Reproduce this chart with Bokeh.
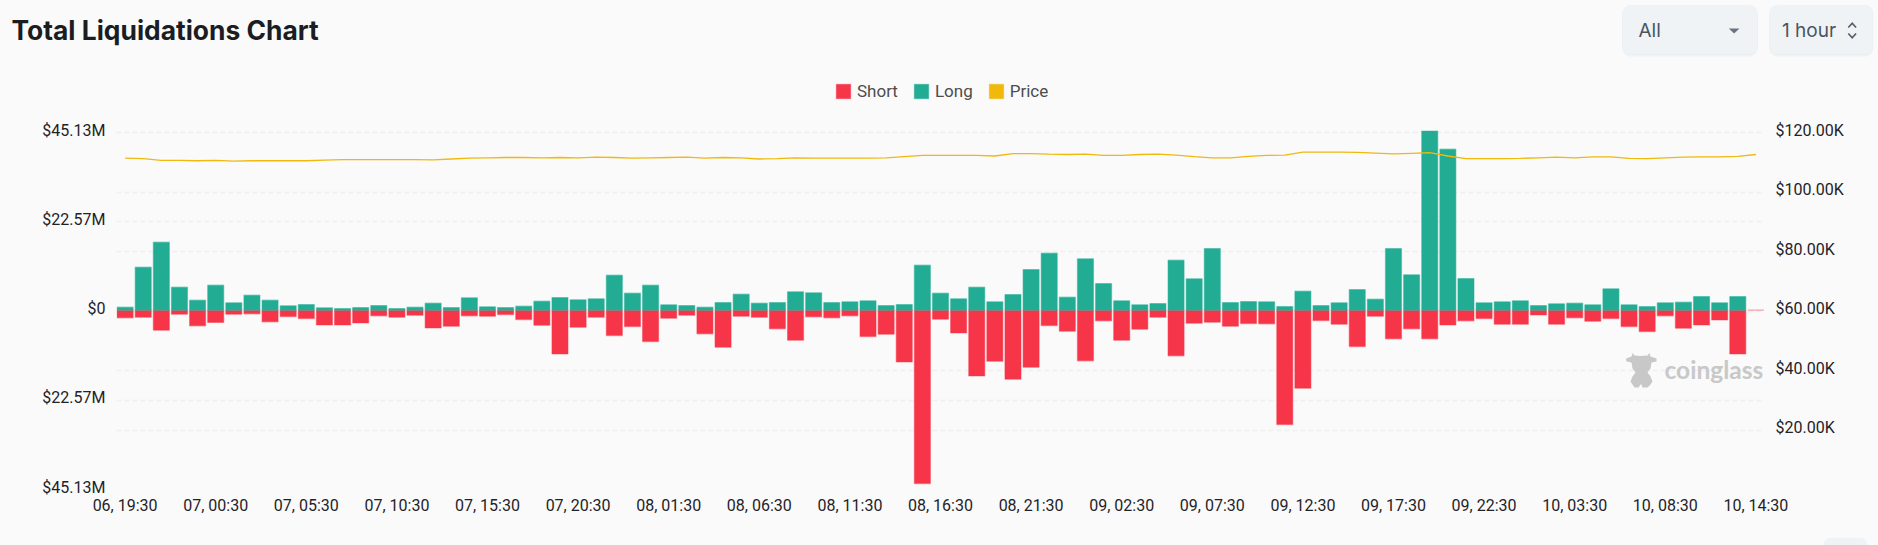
from bokeh.embed import file_html
from bokeh.resources import INLINE
from bokeh.layouts import column
from bokeh.plotting import figure
from bokeh.models import (Range1d, LinearAxis, FixedTicker, Grid, Legend, LegendItem, Label,
                          BoxAnnotation, PolyAnnotation, ColumnDataSource)

long_m = [0.76,10.93,17.28,5.84,2.54,6.35,1.86,3.81,2.54,1.10,1.44,0.59,0.42,0.68,1.19,0.42,0.76,1.78,0.68,
          3.13,0.85,0.68,1.02,2.29,3.22,2.63,2.88,8.89,4.32,6.35,1.36,1.19,0.76,1.95,4.07,1.78,1.95,
          4.66,4.40,1.95,2.12,2.37,1.19,1.44,11.43,4.32,2.88,5.84,2.12,3.98,10.33,14.48,3.30,13.04,6.78,
          2.37,1.36,1.69,12.71,7.96,15.67,1.95,2.20,2.12,0.93,4.83,1.19,1.86,5.25,2.80,15.67,8.98,45.5,40.9,
          8.05,1.86,2.12,2.37,1.19,1.61,1.78,1.36,5.42,1.36,0.93,1.86,2.03,3.47,1.86,3.47,float("nan")]
short_m = [1.95,1.78,5.08,1.02,3.98,3.13,1.02,0.93,2.96,1.61,2.12,3.73,3.73,3.22,1.44,1.78,1.27,4.49,4.07,
           1.44,1.52,1.10,2.37,3.81,11.10,4.32,1.78,6.44,4.15,7.96,2.03,1.27,6.01,9.40,1.52,1.78,4.74,
           7.62,1.69,1.95,1.44,6.69,6.10,13.13,44.04,2.29,5.76,16.69,12.96,17.53,14.48,3.90,5.34,12.87,2.71,
           7.62,4.83,1.78,11.60,3.30,3.05,4.07,3.39,3.47,29.05,19.82,2.63,3.56,9.23,1.52,7.28,4.74,7.28,3.73,
           2.71,2.12,3.56,3.56,1.19,3.56,1.95,2.80,2.12,4.15,5.42,1.44,4.57,3.73,2.46,11.10,0]
price_k = [111.4,111.2,110.6,110.6,110.5,110.6,110.4,110.5,110.5,110.5,110.5,110.7,110.9,110.9,110.9,110.9,110.9,110.8,111.1,
           111.4,111.5,111.6,111.6,111.5,111.6,111.5,111.7,111.6,111.4,111.5,111.6,111.7,111.4,111.6,111.5,111.1,111.2,
           111.5,111.4,111.4,111.4,111.4,111.5,111.9,112.3,112.3,112.3,112.3,112.1,112.9,112.9,112.7,112.6,112.7,112.3,
           112.3,112.6,112.7,112.4,111.9,111.5,111.5,112.0,112.3,112.4,113.4,113.4,113.4,113.3,113.1,112.8,113.0,113.2,112.1,
           111.2,111.2,111.2,111.3,111.5,111.7,111.5,111.8,111.8,111.3,111.2,111.5,111.7,111.8,111.8,112.0,112.6]
x_tick_positions = [0,5,10,15,20,25,30,35,40,45,50,55,60,65,70,75,80,85,90]
x_tick_labels = ["06, 19:30","07, 00:30","07, 05:30","07, 10:30","07, 15:30","07, 20:30","08, 01:30","08, 06:30",
                 "08, 11:30","08, 16:30","08, 21:30","09, 02:30","09, 07:30","09, 12:30","09, 17:30","09, 22:30",
                 "10, 03:30","10, 08:30","10, 14:30"]
left_ticks = [45.13,22.57,0,-22.57,-45.13]
left_labels = ["$45.13M","$22.57M","$0","$22.57M","$45.13M"]
right_ticks = [20,40,60,80,100,120]
right_labels = ["$20.00K","$40.00K","$60.00K","$80.00K","$100.00K","$120.00K"]

RED, GREEN, YELLOW = "#f63549", "#22ac94", "#f0b90b"
BG = "#fafafa"
W = 1878
HEAD, MAIN, FOOT = 110, 425, 10
# the frame runs 12px above the top grid line, so the top axis texts can sit above their line
FL, FR, FT, FB = 116, 1764, 120, 489   # frame edges in page pixels

# ---- main chart
p = figure(width=W, height=MAIN, output_backend="svg", toolbar_location=None,
           x_range=Range1d(-0.475, 90.475), y_range=Range1d(-45.54, 48.18),
           x_axis_location="below", y_axis_location=None,
           min_border_left=FL, min_border_right=W-FR, min_border_top=FT-HEAD, min_border_bottom=HEAD+MAIN-FB,
           background_fill_color=BG, border_fill_color=BG, outline_line_color=None)
p.frame_align = False
p.xgrid.visible = False
p.ygrid.visible = False

# the axis texts sit about 2.4px above their grid lines, hence the separate label ranges
p.extra_y_ranges = {"left": Range1d(-45.13, 48.164), "price": Range1d(0, 124.034),
                    "leftlab": Range1d(-45.73, 47.564), "pricelab": Range1d(-0.8, 123.234)}

GRID = dict(grid_line_color="#f0f0f0", grid_line_width=1.3, grid_line_dash=[5, 3])
for rng, tk in (("left", left_ticks), ("price", [0]+right_ticks)):
    p.add_layout(Grid(dimension=1, ticker=FixedTicker(ticks=tk), y_range_name=rng, **GRID))

AX = dict(axis_line_color=None, major_tick_line_color=None, minor_tick_line_color=None,
          major_tick_out=0, major_tick_in=0, minor_tick_out=0, minor_tick_in=0,
          major_label_text_font="Roboto", major_label_text_font_size="16px",
          major_label_text_color="#1f2328")
la = LinearAxis(y_range_name="leftlab", ticker=FixedTicker(ticks=left_ticks),
                major_label_overrides=dict(zip(left_ticks, left_labels)), major_label_standoff=11, **AX)
p.add_layout(la, "left")
ra = LinearAxis(y_range_name="pricelab", ticker=FixedTicker(ticks=right_ticks),
                major_label_overrides=dict(zip(right_ticks, right_labels)), major_label_standoff=11, **AX)
p.add_layout(ra, "right")
xa = p.xaxis[0]
xa.ticker = FixedTicker(ticks=x_tick_positions)
xa.major_label_overrides = dict(zip(x_tick_positions, x_tick_labels))
xa.major_label_standoff = 6
for k, v in AX.items():
    setattr(xa, k, v)

xs = list(range(len(long_m)))
src = ColumnDataSource(dict(x=xs, long=long_m, short=[-v for v in short_m], price=price_k))
BW = 0.885
BAR = dict(width=BW, line_alpha=0.45, line_width=1.2)
p.vbar(x="x", top=0, bottom="short", source=src, fill_color=RED, line_color=RED, **BAR)
p.vbar(x="x", top="long", bottom=0, source=src, fill_color=GREEN, line_color=GREEN, **BAR)
p.line(x="x", y="price", source=src, y_range_name="price", line_color=YELLOW, line_width=1.3)

def poly(fig, points, fill, sx, sy):
    fig.add_layout(PolyAnnotation(xs=[sx(a) for a, _ in points], ys=[sy(b) for _, b in points], xs_units="screen", ys_units="screen",
                                  fill_color=fill, fill_alpha=1, line_color=None, level="annotation"))

def text(fig, s, x, y, size, color, sx, sy, font="Inter", style="normal"):
    fig.add_layout(Label(x=sx(x), y=sy(y), x_units="screen", y_units="screen", text=s, text_font=font,
                         text_font_size=size, text_color=color, text_font_style=style, text_baseline="middle"))

def box(fig, l, r, t, b, fill, sx, sy, line=None, alpha=1.0):
    fig.add_layout(BoxAnnotation(left=sx(l), right=sx(r), top=sy(t), bottom=sy(b), left_units="screen", right_units="screen",
                                 top_units="screen", bottom_units="screen", fill_color=fill, fill_alpha=alpha,
                                 line_color=line, line_width=1, border_radius=8, level="annotation"))

msx = lambda x: x - FL
msy = lambda y: FB - y
poly(p, [(1632,352.5),(1634,355),(1640,355.5),(1647,355),(1649,352.5),(1650,356),(1656,358),(1656,361),(1651,362),(1650,368),
         (1647,372),(1650,376),(1652,381),(1650,384),(1647,387),(1642,387),(1641,384),(1640,384),(1638,387),(1634,387),(1632,384),
         (1630,381),(1632,376),(1635,372),(1632,368),(1631,362),(1626,361),(1625.5,358),(1631,356)], "#c8c8c8", msx, msy)
text(p, "coinglass", 1664, 369, "24.5px", "#c8c8c8", msx, msy, font="Lato", style="bold")

# ---- header: title, selectors, legend
def bare(height):
    f = figure(width=W, height=height, output_backend="svg", toolbar_location=None,
               x_range=Range1d(0, 1), y_range=Range1d(0, 1), x_axis_location=None, y_axis_location=None,
               min_border=0, min_border_left=0, min_border_right=0, min_border_top=0, min_border_bottom=0,
               background_fill_color=BG, border_fill_color=BG, outline_line_color=None)
    f.frame_align = False
    f.xgrid.visible = False
    f.ygrid.visible = False
    return f

h = bare(HEAD)
hsx = lambda x: x
hsy = lambda y: HEAD - y
text(h, "Total Liquidations Chart", 11, 29, "26.4px", "#1a1e23", hsx, hsy, style="bold")
for l, r in ((1622, 1757), (1769, 1872.5)):
    box(h, l, r, 7, 56, "#e9ecef", hsx, hsy, alpha=0.6)
    box(h, l, r, 5, 54, "#eff3f6", hsx, hsy, line="#dfe7ec")
text(h, "All", 1638, 30, "19px", "#4a5560", hsx, hsy)
text(h, "1 hour", 1781.5, 30, "19px", "#4a5560", hsx, hsy)
poly(h, [(1728.3, 28), (1739, 28), (1733.6, 33)], "#6b7280", hsx, hsy)
poly(h, [(1847.2, 26.5), (1851.7, 21.5), (1856.2, 26.5), (1855, 27.6), (1851.7, 24), (1848.4, 27.6)], "#55606b", hsx, hsy)
poly(h, [(1847.2, 33.5), (1851.7, 38.5), (1856.2, 33.5), (1855, 32.4), (1851.7, 36), (1848.4, 32.4)], "#55606b", hsx, hsy)

# legend swatches: one-off vbars kept outside the header's visible range
swatches = [h.vbar(x=[5], top=[6], bottom=[5], width=1, fill_color=c, line_color=c, line_alpha=0.45) for c in (RED, GREEN, YELLOW)]
leg = Legend(items=[LegendItem(label=n, renderers=[r]) for n, r in zip(("Short", "Long", "Price"), swatches)],
             orientation="horizontal", location=(834, HEAD-101), padding=0, margin=0, spacing=14,
             glyph_width=18, glyph_height=18, label_standoff=5, label_height=18,
             label_text_font="Roboto", label_text_font_size="17px", label_text_color="#4d4d4d",
             background_fill_alpha=0, border_line_color=None)
h.add_layout(leg)

# ---- footer: the edge of the page's round button
f = bare(FOOT)
box(f, 1823, 1867, 535, 570, "#eff3f6", lambda x: x, lambda y: HEAD + MAIN + FOOT - y)

open("out.html", "w").write(file_html(column(h, p, f, spacing=0, styles={"background": BG}), INLINE))
